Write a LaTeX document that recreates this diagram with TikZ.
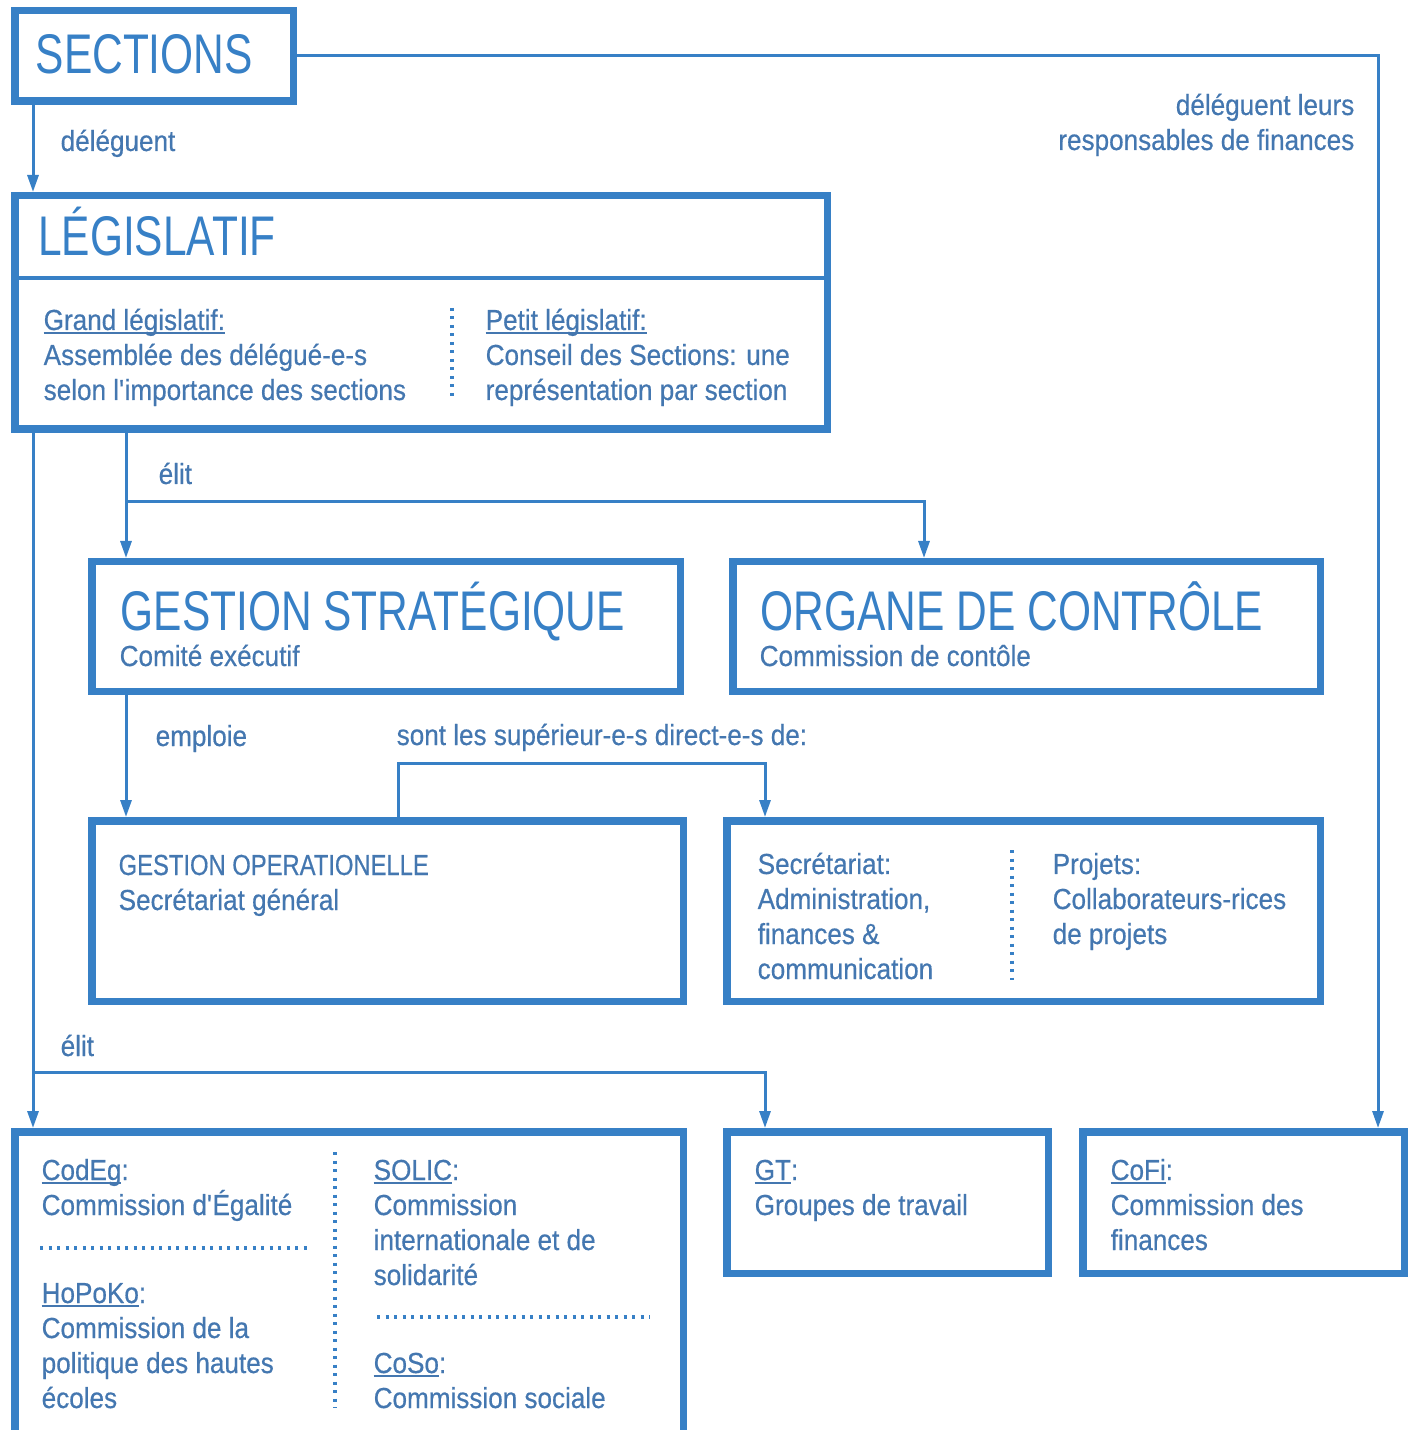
\documentclass[tikz,border=0pt]{standalone}
\usepackage{fontspec}
\setmainfont{Liberation Sans}[FakeStretch=0.9,FakeBold=0.5]
\newfontfamily\titlefont{Liberation Sans}[FakeStretch=0.76]
\newfontfamily\capsfont{Liberation Sans}[FakeStretch=0.82,FakeBold=0.5]
\usetikzlibrary{arrows.meta}
\definecolor{blau}{RGB}{55,128,198}
\definecolor{schrift}{RGB}{68,119,176}
\newcommand{\unterstr}[1]{\setbox0\hbox{#1}\rlap{\rule[-1.1pt]{\wd0}{0.45pt}}\box0}

\begin{document}
\begin{tikzpicture}[>={Triangle[length=1.7mm,width=1.1mm]},
    box/.style={draw=blau,line width=0.75mm,anchor=north west,inner sep=0pt},
    conn/.style={draw=blau,line width=0.3mm},
    dots/.style={draw=blau,line width=0.35mm,dash pattern=on 0.3mm off 0.55mm},
    txt/.style={anchor=base west,inner sep=0pt,align=left,text=schrift,font=\fontsize{8.25pt}{9.96pt}\selectfont},
    titel/.style={anchor=base west,inner sep=0pt,text=blau,font=\titlefont\fontsize{15.9pt}{18pt}\selectfont}]
    \useasboundingbox (0,0) rectangle (14.14,-14.30);
    % boxes
    \node[box,minimum width=2.785cm,minimum height=0.905cm] (sec) at (0.11,-0.07) {};
    \node[box,minimum width=8.125cm,minimum height=2.335cm] (legis) at (0.11,-1.92) {};
    \node[box,minimum width=5.885cm,minimum height=1.295cm] (gs) at (0.88,-5.58) {};
    \node[box,minimum width=5.875cm,minimum height=1.295cm] (org) at (7.29,-5.58) {};
    \node[box,minimum width=5.915cm,minimum height=1.805cm] (go) at (0.88,-8.17) {};
    \node[box,minimum width=5.935cm,minimum height=1.805cm] (sek) at (7.23,-8.17) {};
    \node[box,minimum width=6.685cm,minimum height=3.045cm] (com) at (0.11,-11.28) {};
    \node[box,minimum width=3.215cm,minimum height=1.415cm] (gt) at (7.23,-11.28) {};
    \node[box,minimum width=3.215cm,minimum height=1.415cm] (cofi) at (10.79,-11.28) {};
    \draw[blau,line width=0.4mm] ([yshift=-0.86cm]legis.north west) -- ([yshift=-0.86cm]legis.north east);
    % texts (multi-line nodes sit on their last baseline)
    \node[titel] (secT) at (0.35,-0.74) {SECTIONS};
    \node[titel] (legisT) at (0.375,-2.56) {LÉGISLATIF};
    \node[txt] (grand) at (0.43,-4.00) {\unterstr{Grand législatif:}\\Assemblée des délégué-e-s\\selon l\textquotesingle importance des sections};
    \node[txt] (petit) at (4.85,-4.00) {\unterstr{Petit législatif:}\\Conseil des Sections: une\\représentation par section};
    \draw[dots] (4.52,-3.08) -- (4.52,-4.00);
    \node[titel] (gsT) at (1.20,-6.30) {GESTION STRATÉGIQUE};
    \node[txt] (gsS) at (1.19,-6.66) {Comité exécutif};
    \node[titel] (orgT) at (7.60,-6.30) {ORGANE DE CONTRÔLE};
    \node[txt] (orgS) at (7.59,-6.66) {Commission de contôle};
    \node[txt] (goT) at (1.18,-9.10) {{\capsfont GESTION OPERATIONELLE}\\Secrétariat général};
    \node[txt] (sekL) at (7.57,-9.79) {Secrétariat:\\Administration,\\finances \&\\communication};
    \node[txt] (sekR) at (10.52,-9.44) {Projets:\\Collaborateurs-rices\\de projets};
    \draw[dots] (10.12,-8.50) -- (10.12,-9.80);
    \node[txt] (codeg) at (0.41,-12.15) {\unterstr{CodEg}:\\Commission d\textquotesingle Égalité};
    \draw[dots] (0.40,-12.48) -- (3.08,-12.48);
    \node[txt] (hopoko) at (0.41,-14.08) {\unterstr{HoPoKo}:\\Commission de la\\politique des hautes\\écoles};
    \draw[dots] (3.35,-11.52) -- (3.35,-14.08);
    \node[txt] (solic) at (3.73,-12.85) {\unterstr{SOLIC}:\\Commission\\internationale et de\\solidarité};
    \draw[dots] (3.77,-13.17) -- (6.50,-13.17);
    \node[txt] (coso) at (3.73,-14.08) {\unterstr{CoSo}:\\Commission sociale};
    \node[txt] (gtT) at (7.54,-12.15) {\unterstr{GT}:\\Groupes de travail};
    \node[txt] (cofiT) at (11.10,-12.50) {\unterstr{CoFi}:\\Commission des\\finances};
    % labels
    \node[txt] (deleg) at (0.60,-1.51) {déléguent};
    \node[txt,anchor=base east,align=right] (delegfin) at (13.55,-1.50) {déléguent leurs\\responsables de finances};
    \node[txt] (elitA) at (1.58,-4.84) {élit};
    \node[txt] (empl) at (1.55,-7.46) {emploie};
    \node[txt] (supl) at (3.96,-7.45) {sont les supérieur-e-s direct-e-s de:};
    \node[txt] (elitB) at (0.60,-10.56) {élit};
    % connectors
    \coordinate (leftX) at (0.33,-10.72);
    \coordinate (midX) at (1.26,-5.02);
    \coordinate (orgX) at (9.24,0);
    \coordinate (gtX) at (7.65,0);
    \coordinate (finX) at (13.78,0);
    \coordinate (sup) at (3.98,-7.63);
    \draw[conn,->] (sec.south -| leftX) -- (legis.north -| leftX);
    \draw[conn,->] (sec.east) -- (sec.east -| finX) -- (cofi.north -| finX);
    \draw[conn,->] (legis.south -| midX) -- (gs.north -| midX);
    \draw[conn,->] (midX) -| (org.north -| orgX);
    \draw[conn,->] (gs.south -| midX) -- (go.north -| midX);
    \draw[conn,->] (go.north -| sup) -- (sup) -| (sek.north -| gtX);
    \draw[conn,->] (legis.south -| leftX) -- (com.north -| leftX);
    \draw[conn,->] (leftX) -| (gt.north -| gtX);
\end{tikzpicture}
\end{document}
